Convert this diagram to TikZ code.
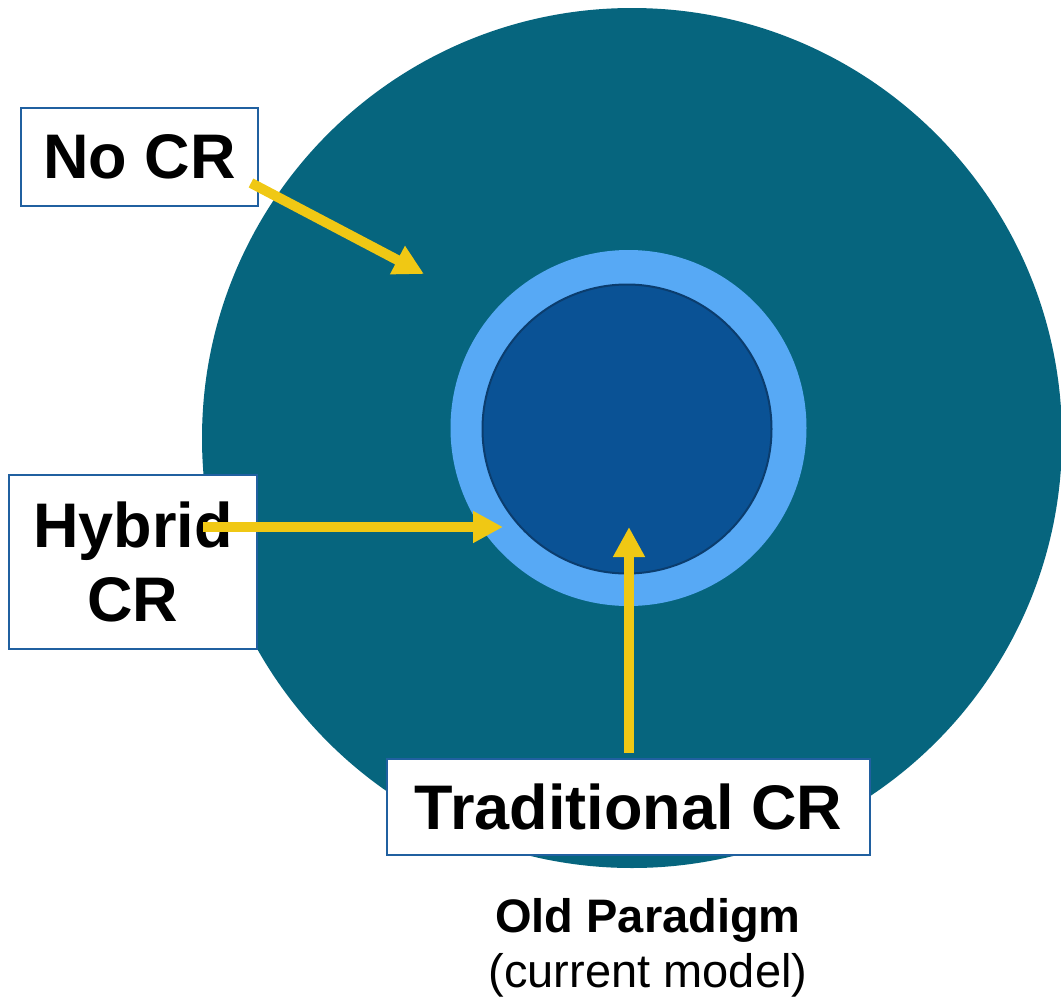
\documentclass[tikz,border=0pt]{standalone}
\usepackage{fontspec}
\setmainfont{Liberation Sans}
\usetikzlibrary{arrows.meta}
\definecolor{outerteal}{HTML}{06657E}
\definecolor{ringblue}{HTML}{57A9F5}
\definecolor{coreblue}{HTML}{0A5295}
\definecolor{coreedge}{HTML}{0B3D6E}
\definecolor{arrowgold}{HTML}{F0C814}
\definecolor{boxedge}{HTML}{2060A0}
\tikzset{
  labelbox/.style={draw=boxedge, line width=2pt, fill=white, align=center,
    font=\fontsize{63}{74}\selectfont\bfseries, inner sep=0pt},
  goldarrow/.style={draw=arrowgold, line width=10pt,
    -{Triangle[length=30pt,width=30pt]}},
}
\begin{document}
\begin{tikzpicture}[x=1pt,y=-1pt]
\useasboundingbox (0,0) rectangle (1061,999);
% nested regions
\fill[outerteal] (632,438) circle[radius=430];
\fill[ringblue] (628.5,428) circle[radius=178];
\draw[coreedge, line width=2pt, fill=coreblue] (627,429) circle[radius=144.5];
% label boxes
\node[labelbox, minimum width=237pt, minimum height=98pt] (nocr) at (139.5,156.5) {No CR};
\node[labelbox, minimum width=248pt, minimum height=174pt] (hybrid) at (133,562) {Hybrid\\CR};
\node[labelbox, minimum width=483pt, minimum height=96pt] (trad) at (628.5,807) {Traditional CR};
% caption
\node[font=\fontsize{47}{55}\selectfont, align=center, anchor=north] (caption) at (648,895)
  {\textbf{Old Paradigm}\\(current model)};
% arrow endpoints
\coordinate (nocrTail) at (251,183);
\coordinate (nocrTip) at (424,274);
\coordinate (hybridTail) at (203,527);
\coordinate (hybridTip) at (503,527);
\coordinate (tradTail) at (629,753);
\coordinate (tradTip) at (629,527);
\draw[goldarrow] (nocrTail) -- (nocrTip);
\draw[goldarrow] (hybridTail) -- (hybridTip);
\draw[goldarrow] (tradTail) -- (tradTip);
\end{tikzpicture}
\end{document}
